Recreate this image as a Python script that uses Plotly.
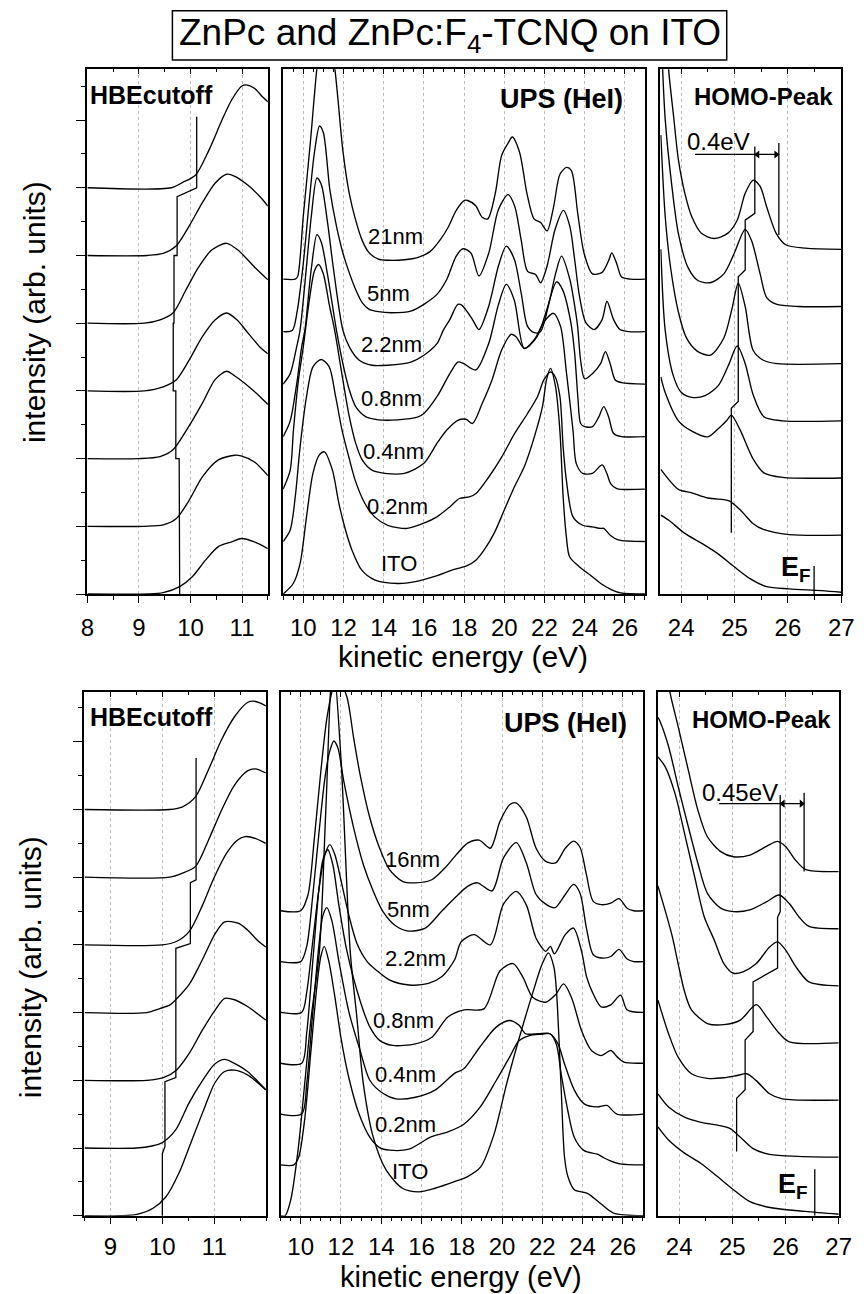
import plotly.graph_objects as go

W, H = 868, 1294
FONT = "Liberation Sans"

# ======================= DATA =======================
labels_top = ["ITO", "0.2nm", "0.4nm", "0.8nm", "2.2nm", "5nm", "21nm"]
labels_bot = ["ITO", "0.2nm", "0.4nm", "0.8nm", "2.2nm", "5nm", "16nm"]

# ---- top-left: HBE cutoff (ZnPc) ----
tl_ito_x = [8.0, 9.2, 9.47, 9.79, 10.04, 10.29, 10.54, 10.8, 10.99, 11.24, 11.5]
tl_ito_y = [0.0, 0.0, 0.02, 0.11, 0.26, 0.5, 0.7, 0.77, 0.82, 0.77, 0.67]
tl_02_x = [8.0, 9.1, 9.47, 9.72, 9.97, 10.23, 10.54, 10.86, 10.98, 11.24, 11.5]
tl_02_y = [0.0, 0.0, 0.02, 0.11, 0.38, 0.73, 0.98, 1.05, 1.04, 0.95, 0.75]
tl_04_x = [8.0, 9.0, 9.41, 9.66, 9.97, 10.23, 10.48, 10.7, 10.86, 11.12, 11.37, 11.5]
tl_04_y = [0.0, 0.0, 0.03, 0.13, 0.48, 0.82, 1.17, 1.29, 1.22, 1.07, 0.9, 0.8]
tl_08_x = [8.0, 9.1, 9.47, 9.72, 9.97, 10.23, 10.48, 10.7, 10.9, 11.12, 11.37, 11.5]
tl_08_y = [0.0, 0.0, 0.06, 0.16, 0.45, 0.8, 1.05, 1.15, 1.05, 0.85, 0.63, 0.55]
tl_22_x = [8.0, 9.1, 9.41, 9.66, 9.91, 10.16, 10.41, 10.7, 10.92, 11.24, 11.5]
tl_22_y = [0.0, 0.0, 0.05, 0.15, 0.49, 0.83, 1.08, 1.18, 1.08, 0.83, 0.64]
tl_5_x = [8.0, 9.16, 9.47, 9.72, 9.97, 10.23, 10.48, 10.7, 10.86, 11.11, 11.37, 11.5]
tl_5_y = [0.0, 0.0, 0.03, 0.14, 0.43, 0.78, 1.07, 1.2, 1.17, 1.04, 0.85, 0.73]
tl_21_x = [8.0, 9.63, 9.85, 10.1, 10.36, 10.61, 10.8, 10.99, 11.08, 11.24, 11.4, 11.5]
tl_21_y = [0.0, 0.0, 0.08, 0.19, 0.56, 1.0, 1.3, 1.5, 1.52, 1.47, 1.34, 1.27]
tl_cut_x = [9.79, 9.79, 9.78, 9.78, 9.715, 9.715, 9.665, 9.665, 9.68, 9.68, 9.74, 9.74, 10.12, 10.12]
tl_cut_y = [0, 0.99, 0.99, 2.0, 2.0, 3.0, 3.0, 4.0, 4.0, 5.0, 5.0, 5.87, 6.0, 7.05]

# ---- top-middle: UPS (HeI) full spectra ----
tm_ito_x = [9.0, 9.5, 9.84, 10.16, 10.48, 10.8, 11.05, 11.45, 11.77, 12.1, 12.42, 12.9, 13.55, 14.7, 15.5,
            16.5, 17.5, 18.1, 18.6, 19.0, 19.5, 20.0, 20.5, 21.0, 21.5, 21.9, 22.1, 22.3, 22.55, 22.77,
            22.93, 23.09, 23.25, 23.73, 24.38, 24.8, 25.35, 25.8, 27.0]
tm_ito_y = [0.0, 0.2, 0.58, 1.47, 2.3, 2.65, 2.71, 2.36, 1.73, 1.22, 0.84, 0.46, 0.27, 0.2, 0.23,
            0.33, 0.47, 0.53, 0.65, 0.84, 1.16, 1.6, 2.04, 2.43, 3.0, 3.57, 4.08, 4.3, 3.95, 3.1,
            1.85, 1.09, 0.71, 0.52, 0.33, 0.2, 0.08, 0.02, 0.0]
tm_02_x = [9.0, 9.35, 9.6, 9.84, 10.16, 10.48, 10.89, 11.29, 11.61, 11.93, 12.26, 12.58, 13.06, 13.55,
           14.2, 15.16, 16.0, 16.65, 17.29, 17.77, 18.26, 18.58, 19.23, 19.87, 20.52, 21.16, 21.65,
           21.97, 22.29, 22.53, 22.77, 22.93, 23.09, 23.42, 23.9, 24.38, 24.79, 24.95, 25.27, 25.67, 27.0]
tm_02_y = [0.0, 0.22, 0.85, 1.8, 2.76, 3.33, 3.47, 3.33, 2.76, 2.12, 1.62, 1.17, 0.73, 0.47,
           0.31, 0.25, 0.35, 0.47, 0.66, 0.82, 0.85, 0.91, 1.23, 1.61, 2.06, 2.44, 2.76,
           3.08, 3.23, 3.14, 2.76, 1.8, 1.17, 0.47, 0.31, 0.28, 0.25, 0.25, 0.12, 0.03, 0.0]
tm_04_x = [9.0, 9.35, 9.51, 9.76, 10.0, 10.3, 10.55, 10.76, 11.0, 11.3, 11.56, 11.97, 12.29, 12.61,
           12.94, 13.42, 14.06, 15.03, 16.0, 16.65, 17.13, 17.69, 18.1, 18.42, 18.9, 19.39, 19.87,
           20.35, 20.6, 21.0, 21.5, 22.0, 22.45, 22.8, 23.1, 23.42, 23.58, 23.9, 24.39, 24.87, 25.1,
           25.3, 25.6, 27.0]
tm_04_y = [0.0, 0.36, 1.12, 2.08, 2.71, 3.6, 4.15, 4.28, 4.1, 3.5, 3.03, 2.08, 1.38, 0.87,
           0.55, 0.36, 0.3, 0.3, 0.49, 0.87, 1.12, 1.31, 1.33, 1.25, 1.63, 2.08, 2.65,
           2.95, 2.9, 2.68, 2.85, 3.2, 3.35, 3.1, 2.2, 1.12, 0.49, 0.3, 0.3, 0.46, 0.3,
           0.1, 0.01, 0.0]
tm_08_x = [9.0, 9.35, 9.67, 9.92, 10.08, 10.4, 10.68, 10.9, 11.2, 11.65, 11.97, 12.29, 12.61, 13.1,
           13.74, 14.7, 15.68, 16.0, 16.65, 17.29, 17.69, 17.94, 18.58, 19.23, 19.7, 20.1, 20.5,
           21.0, 21.64, 22.1, 22.6, 22.9, 23.3, 23.5, 23.66, 23.8, 24.0, 24.39, 24.71, 24.95, 25.19,
           25.44, 25.84, 27.0]
tm_08_y = [0.0, 0.3, 1.0, 1.71, 2.03, 3.2, 3.85, 3.7, 3.1, 2.03, 1.39, 0.89, 0.57, 0.38,
           0.32, 0.32, 0.37, 0.44, 0.76, 1.2, 1.42, 1.4, 1.27, 1.78, 2.5, 2.9, 2.6,
           1.68, 1.91, 2.4, 2.95, 2.8, 2.2, 1.6, 0.76, 0.25, 0.19, 0.19, 0.38, 0.57, 0.38,
           0.06, 0.0, 0.0]
tm_22_x = [9.0, 9.35, 9.67, 9.84, 10.1, 10.4, 10.68, 10.9, 11.2, 11.5, 11.97, 12.29, 12.77, 13.42,
           14.2, 15.35, 16.0, 16.65, 16.97, 17.29, 17.69, 17.9, 18.42, 18.74, 19.23, 19.71, 20.1,
           20.5, 20.84, 21.16, 21.5, 21.8, 22.2, 22.55, 22.85, 23.26, 23.5, 23.65, 23.8, 24.0,
           24.39, 24.79, 25.03, 25.27, 25.52, 25.84, 27.0]
tm_22_y = [0.0, 0.2, 0.71, 1.03, 2.0, 3.2, 3.93, 3.8, 3.1, 2.2, 1.03, 0.71, 0.46, 0.36,
           0.36, 0.42, 0.55, 0.77, 1.03, 1.23, 1.52, 1.5, 1.23, 1.04, 1.49, 2.25, 2.63,
           2.38, 1.74, 1.1, 0.98, 1.0, 1.5, 2.1, 2.44, 2.0, 1.5, 1.1, 0.45, 0.1,
           0.2, 0.39, 0.62, 0.39, 0.08, 0.03, 0.0]
tm_5_x = [9.0, 9.45, 9.7, 10.0, 10.3, 10.55, 10.81, 11.0, 11.32, 11.65, 11.97, 12.29, 12.61, 12.94,
          13.26, 13.74, 14.39, 15.35, 16.0, 16.65, 17.13, 17.61, 17.94, 18.34, 18.74, 19.23, 19.71,
          20.19, 20.52, 20.84, 21.16, 21.56, 21.81, 22.13, 22.53, 22.94, 23.26, 23.5, 23.74, 24.06,
          24.47, 24.87, 25.11, 25.44, 25.76, 26.2, 27.0]
tm_5_y = [0.0, 0.02, 0.4, 1.3, 2.5, 3.4, 3.92, 3.79, 2.71, 2.01, 1.5, 1.12, 0.8, 0.55,
          0.43, 0.38, 0.36, 0.39, 0.52, 0.71, 0.99, 1.44, 1.58, 1.5, 1.06, 1.5, 2.33,
          2.61, 2.39, 1.75, 1.15, 1.09, 0.93, 1.25, 1.95, 2.31, 2.01, 1.38, 0.68, 0.17,
          0.04, 0.23, 0.58, 0.23, 0.04, 0.0, 0.0]
tm_21_x = [9.0, 9.6, 9.72, 10.0, 10.35, 10.7, 11.0, 11.3, 11.56, 11.73, 11.97, 12.29, 12.61, 12.94,
           13.26, 13.74, 14.23, 15.03, 15.68, 16.32, 16.81, 17.21, 17.61, 18.02, 18.18, 18.58, 18.9,
           19.18, 19.55, 19.87, 20.2, 20.4, 20.76, 21.13, 21.48, 21.81, 22.13, 22.45, 22.77, 23.1,
           23.34, 23.66, 23.98, 24.39, 24.87, 25.19, 25.35, 25.6, 25.84, 26.3, 27.0]
tm_21_y = [0.0, 0.0, 0.05, 1.2, 2.6, 4.1, 4.9, 4.7, 4.05, 3.41, 2.45, 1.63, 1.12, 0.73,
           0.51, 0.38, 0.36, 0.37, 0.41, 0.53, 0.75, 0.99, 1.31, 1.5, 1.5, 1.4, 1.18,
           1.15, 1.63, 2.36, 2.6, 2.71, 2.42, 1.63, 1.15, 1.08, 0.92, 1.37, 2.0, 2.13,
           2.07, 1.24, 0.48, 0.1, 0.13, 0.35, 0.5, 0.29, 0.04, 0.0, 0.0]

# ---- top-right: HOMO region ----
tr_ito_x = [23.62, 23.77, 24.07, 24.38, 24.68, 24.99, 25.29, 25.6, 26.02, 26.63, 27.0]
tr_ito_y = [1.35, 1.26, 1.03, 0.86, 0.68, 0.45, 0.24, 0.1, 0.06, 0.03, 0.0]
tr_02_x = [23.62, 23.95, 24.2, 24.5, 24.8, 24.9, 25.11, 25.35, 25.54, 26.02, 27.0]
tr_02_y = [1.15, 0.8, 0.74, 0.65, 0.62, 0.6, 0.44, 0.2, 0.1, 0.01, 0.0]
tr_04_x = [23.62, 23.7, 23.95, 24.2, 24.5, 24.68, 24.85, 24.94, 25.1, 25.35, 25.55, 25.9, 27.0]
tr_04_y = [1.77, 1.5, 1.0, 0.82, 0.72, 0.85, 1.0, 1.1, 0.85, 0.33, 0.09, 0.01, 0.0]
tr_08_x = [23.62, 23.7, 23.85, 24.0, 24.2, 24.45, 24.7, 24.9, 25.05, 25.2, 25.35, 25.55, 25.9, 27.0]
tr_08_y = [3.0, 1.6, 0.8, 0.5, 0.41, 0.44, 0.62, 1.0, 1.31, 1.0, 0.45, 0.07, 0.0, 0.0]
tr_22_x = [23.62, 23.7, 23.8, 23.95, 24.1, 24.3, 24.55, 24.8, 24.95, 25.07, 25.2, 25.35, 25.54, 25.8, 27.0]
tr_22_y = [4.0, 2.6, 1.7, 0.9, 0.45, 0.22, 0.15, 0.45, 0.95, 1.41, 1.0, 0.23, 0.06, 0.0, 0.0]
tr_5_x = [23.62, 23.7, 23.83, 23.95, 24.13, 24.32, 24.56, 24.8, 24.99, 25.2, 25.32, 25.48, 25.6, 25.78, 26.2, 27.0]
tr_5_y = [5.0, 3.3, 2.08, 1.27, 0.68, 0.45, 0.42, 0.57, 0.92, 1.35, 1.15, 0.57, 0.16, 0.04, 0.0, 0.0]
tr_21_x = [23.7, 23.77, 23.86, 23.95, 24.07, 24.2, 24.38, 24.62, 24.87, 25.05, 25.2, 25.35, 25.48, 25.6,
           25.78, 25.96, 26.33, 27.0]
tr_21_y = [4.0, 3.1, 2.32, 1.56, 0.98, 0.57, 0.28, 0.19, 0.28, 0.51, 0.98, 1.21, 1.1, 0.75,
           0.28, 0.08, 0.02, 0.0]
tr_homo_x = [25.38, 25.38, 25.20, 25.20, 25.07, 25.07, 24.94, 24.94]
tr_homo_y = [7.80, 6.63, 6.51, 5.64, 5.52, 3.34, 3.22, 1.04]
tr_shift_x = [24.26, 25.38, 25.83]          # underline start, HOMO(21nm), reference position
tr_shift_y = [7.66, 6.25, 7.86]              # underline level, reference line bottom / top
tr_ef_x = 26.49
tr_ef_y = [-0.03, 0.46]

# ---- bottom-left: HBE cutoff (ZnPc:F4-TCNQ) ----
bl_ito_x = [8.5, 9.2, 9.51, 9.82, 10.07, 10.32, 10.57, 10.82, 11.01, 11.2, 11.39, 11.64, 11.99]
bl_ito_y = [0.0, 0.0, 0.02, 0.11, 0.28, 0.63, 1.12, 1.61, 1.96, 2.13, 2.15, 2.08, 1.86]
bl_02_x = [8.5, 9.5, 9.8, 10.0, 10.26, 10.51, 10.76, 11.01, 11.2, 11.39, 11.64, 11.99]
bl_02_y = [0.0, 0.0, 0.03, 0.08, 0.27, 0.66, 0.98, 1.24, 1.31, 1.25, 1.13, 0.86]
bl_04_x = [8.5, 9.7, 10.02, 10.27, 10.52, 10.77, 11.02, 11.2, 11.39, 11.64, 11.99]
bl_04_y = [0.0, 0.0, 0.04, 0.15, 0.4, 0.74, 1.04, 1.21, 1.19, 1.09, 0.89]
bl_08_x = [8.5, 9.7, 9.95, 10.14, 10.27, 10.52, 10.77, 11.02, 11.2, 11.46, 11.64, 11.83, 11.99]
bl_08_y = [0.0, 0.0, 0.06, 0.11, 0.2, 0.42, 0.78, 1.17, 1.34, 1.32, 1.22, 1.07, 0.97]
bl_22_x = [8.5, 10.0, 10.27, 10.52, 10.77, 11.0, 11.25, 11.45, 11.6, 11.8, 11.99]
bl_22_y = [0.0, 0.0, 0.05, 0.2, 0.58, 1.0, 1.37, 1.55, 1.6, 1.57, 1.5]
bl_5_x = [8.5, 10.14, 10.39, 10.64, 10.89, 11.14, 11.39, 11.64, 11.79, 11.99]
bl_5_y = [0.0, 0.0, 0.06, 0.16, 0.55, 0.99, 1.36, 1.57, 1.6, 1.54]
bl_16_x = [8.5, 10.14, 10.39, 10.64, 10.89, 11.14, 11.39, 11.64, 11.76, 11.89, 11.99]
bl_16_y = [0.0, 0.0, 0.04, 0.19, 0.59, 1.03, 1.37, 1.58, 1.6, 1.57, 1.53]
bl_cut_x = [10.0, 10.0, 10.05, 10.05, 10.26, 10.26, 10.54, 10.54, 10.65, 10.65]
bl_cut_y = [0, 0.92, 1.02, 1.98, 2.04, 3.95, 4.02, 4.92, 4.96, 6.76]

# ---- bottom-middle: UPS (HeI) full spectra ----
bm_ito_x = [9.0, 9.23, 9.5, 9.87, 10.2, 10.52, 10.93, 11.25, 11.6, 12.0, 12.46, 12.79, 13.11, 13.6,
            14.24, 15.05, 15.86, 16.67, 17.64, 18.29, 18.94, 19.6, 20.23, 20.87, 21.52, 22.01, 22.3,
            22.57, 22.7, 22.94, 23.1, 23.27, 23.59, 24.24, 24.89, 25.54, 27.0]
bm_ito_y = [0.0, 0.0, 0.3, 1.29, 2.6, 3.9, 5.2, 8.0, 11.0, 9.0, 5.2, 3.9, 2.6, 1.55,
            0.9, 0.54, 0.47, 0.54, 0.67, 0.77, 0.96, 1.6, 2.6, 3.52, 4.38, 4.97, 5.17,
            4.9, 4.44, 2.47, 1.16, 0.77, 0.51, 0.44, 0.24, 0.05, 0.0]
bm_02_x = [9.0, 9.66, 9.9, 10.2, 10.5, 10.8, 11.0, 11.17, 11.4, 11.7, 12.0, 12.4, 12.9, 13.44,
           13.92, 14.41, 15.38, 16.47, 17.31, 18.1, 18.9, 19.71, 20.36, 20.84, 21.33, 21.97, 22.38,
           22.7, 22.94, 23.27, 23.59, 24.08, 24.73, 25.05, 25.38, 25.86, 27.0]
bm_02_y = [0.0, 0.0, 0.15, 0.9, 2.2, 3.5, 4.1, 4.3, 4.0, 3.3, 2.5, 1.7, 1.0, 0.54,
           0.34, 0.29, 0.31, 0.55, 0.65, 0.8, 1.13, 1.66, 2.11, 2.44, 2.54, 2.57, 2.58,
           2.37, 1.78, 1.06, 0.54, 0.28, 0.21, 0.14, 0.08, 0.02, 0.0]
bm_04_x = [9.0, 10.05, 10.3, 10.6, 10.9, 11.1, 11.3, 11.55, 11.9, 12.4, 12.95, 13.44, 14.08, 14.73,
           15.7, 16.67, 17.64, 18.1, 18.9, 19.71, 20.36, 20.84, 21.17, 21.8, 22.38, 22.78, 23.1,
           23.59, 24.08, 24.73, 25.21, 25.7, 27.0]
bm_04_y = [0.0, 0.0, 0.6, 2.0, 3.3, 3.9, 4.06, 3.8, 3.0, 2.0, 1.25, 0.66, 0.41, 0.3,
           0.33, 0.47, 0.8, 0.89, 1.32, 1.71, 1.84, 1.75, 1.58, 1.58, 1.58, 1.38, 0.99,
           0.47, 0.2, 0.14, 0.17, 0.0, 0.0]
bm_08_x = [9.0, 10.05, 10.3, 10.6, 10.9, 11.1, 11.35, 11.6, 11.9, 12.3, 12.95, 13.44, 13.92, 14.57,
           15.7, 16.51, 17.31, 18.12, 19.1, 19.9, 20.55, 21.04, 21.52, 22.17, 22.66, 23.06, 23.47,
           23.95, 24.44, 24.92, 25.4, 25.73, 26.05, 27.0]
bm_08_y = [0.0, 0.0, 0.6, 2.0, 3.4, 4.0, 4.2, 3.9, 3.1, 2.2, 1.23, 0.71, 0.45, 0.35,
           0.38, 0.51, 0.91, 1.05, 1.07, 1.82, 1.96, 1.69, 1.3, 1.2, 1.35, 1.56, 1.27,
           0.64, 0.25, 0.15, 0.25, 0.12, 0.02, 0.0]
bm_22_x = [9.0, 10.05, 10.3, 10.6, 10.9, 11.2, 11.45, 11.7, 12.0, 12.4, 12.8, 13.3, 13.76, 14.4,
           15.38, 16.35, 17.0, 17.64, 17.97, 18.61, 19.42, 20.07, 20.71, 21.2, 21.69, 22.17, 22.4,
           22.6, 23.14, 23.55, 23.95, 24.2, 24.52, 24.92, 25.4, 25.89, 26.21, 27.0]
bm_22_y = [0.0, 0.0, 0.4, 1.4, 2.4, 3.1, 3.3, 3.1, 2.6, 1.9, 1.35, 1.0, 0.83, 0.64,
           0.54, 0.57, 0.7, 1.03, 1.39, 1.53, 1.33, 2.13, 2.38, 2.12, 1.46, 1.2, 1.3,
           1.15, 1.53, 1.66, 1.2, 0.7, 0.37, 0.11, 0.15, 0.34, 0.05, 0.0]
bm_5_x = [9.0, 10.0, 10.3, 10.6, 10.9, 11.2, 11.45, 11.65, 11.85, 12.14, 12.63, 13.11, 13.6, 14.08,
          14.73, 15.38, 16.19, 17.0, 17.65, 18.29, 18.78, 19.5, 20.07, 20.71, 21.2, 21.69, 22.17,
          22.62, 23.14, 23.55, 23.87, 24.19, 24.52, 24.92, 25.4, 25.81, 26.21, 26.54, 27.0]
bm_5_y = [0.0, 0.0, 0.3, 1.3, 2.5, 3.6, 4.15, 4.34, 4.2, 3.55, 2.63, 1.91, 1.39, 0.99,
          0.7, 0.6, 0.66, 0.99, 1.25, 1.48, 1.55, 1.39, 2.04, 2.34, 1.95, 1.32, 1.13,
          1.06, 1.32, 1.52, 1.35, 0.66, 0.14, 0.07, 0.1, 0.24, 0.05, 0.0, 0.0]
bm_16_x = [9.0, 10.0, 10.36, 10.68, 11.0, 11.33, 11.7, 12.0, 12.3, 12.63, 12.95, 13.44, 13.92, 14.41,
           15.05, 15.7, 16.51, 17.16, 17.72, 18.29, 18.86, 19.42, 19.9, 20.39, 20.71, 21.2, 21.69,
           22.17, 22.66, 23.14, 23.55, 23.87, 24.19, 24.52, 24.92, 25.4, 25.81, 26.21, 26.54, 27.0]
bm_16_y = [0.0, 0.0, 0.31, 1.43, 2.74, 3.86, 4.45, 4.45, 4.2, 3.4, 2.68, 1.82, 1.23, 0.81,
           0.58, 0.55, 0.61, 0.84, 1.1, 1.33, 1.39, 1.23, 1.76, 2.09, 2.12, 1.85, 1.23,
           0.97, 0.94, 1.23, 1.37, 1.25, 0.71, 0.19, 0.12, 0.15, 0.24, 0.05, 0.0, 0.0]

# ---- bottom-right: HOMO region ----
br_ito_x = [23.6, 23.8, 24.1, 24.41, 24.72, 25.02, 25.33, 25.76, 26.37, 27.0]
br_ito_y = [1.53, 1.3, 1.07, 0.89, 0.66, 0.43, 0.22, 0.11, 0.05, 0.0]
br_02_x = [23.6, 23.8, 24.1, 24.41, 24.72, 24.96, 25.15, 25.39, 25.7, 27.0]
br_02_y = [1.11, 0.88, 0.7, 0.61, 0.56, 0.5, 0.35, 0.15, 0.05, 0.0]
br_04_x = [23.6, 23.8, 23.98, 24.23, 24.53, 24.84, 25.09, 25.27, 25.45, 25.7, 25.94, 27.0]
br_04_y = [1.75, 1.16, 0.75, 0.46, 0.38, 0.39, 0.43, 0.46, 0.34, 0.11, 0.02, 0.0]
br_08_x = [23.6, 23.86, 24.0, 24.1, 24.23, 24.53, 24.84, 25.15, 25.45, 25.64, 25.88, 26.07, 27.0]
br_08_y = [2.75, 1.9, 1.3, 0.9, 0.58, 0.34, 0.32, 0.4, 0.67, 0.46, 0.17, 0.02, 0.0]
br_22_x = [23.6, 23.74, 23.92, 24.1, 24.29, 24.47, 24.66, 24.84, 25.02, 25.21, 25.45, 25.7, 25.85,
           26.0, 26.19, 26.44, 27.0]
br_22_y = [4.01, 3.83, 3.37, 2.67, 1.91, 1.21, 0.8, 0.39, 0.22, 0.25, 0.39, 0.68, 0.77,
           0.63, 0.34, 0.07, 0.0]
br_5_x = [23.6, 23.64, 23.8, 23.98, 24.17, 24.35, 24.53, 24.78, 25.02, 25.33, 25.64, 25.88, 26.07,
          26.25, 26.44, 27.0]
br_5_y = [3.7, 3.63, 3.19, 2.49, 1.79, 1.15, 0.62, 0.36, 0.3, 0.33, 0.47, 0.59, 0.44,
          0.21, 0.04, 0.0]
br_16_x = [23.75, 23.83, 23.98, 24.17, 24.35, 24.53, 24.78, 25.02, 25.33, 25.64, 25.85, 26.0, 26.19,
           26.37, 27.0]
br_16_y = [3.6, 3.12, 2.54, 1.78, 1.08, 0.61, 0.35, 0.26, 0.29, 0.44, 0.53, 0.44, 0.2,
           0.04, 0.0]
br_homo_x = [25.90, 25.90, 25.85, 25.85, 25.39, 25.39, 25.24, 25.24, 25.08, 25.08]
br_homo_y = [7.34, 5.30, 5.20, 4.31, 4.07, 3.20, 3.05, 2.18, 2.03, 1.10]
br_shift_x = [24.75, 25.90, 26.35]
br_shift_y = [7.19, 6.0, 7.38]
br_ef_x = 26.55
br_ef_y = [-0.025, 0.79]

# ======================= FIGURE =======================
def px_x(p):
    return p / W


def px_y(p):
    return 1 - p / H


fig = go.Figure()
LINE = dict(color="black", width=1.35, shape="spline", smoothing=0.8)
SEG = dict(color="black", width=1.3)


def axn(ax):
    return ("x", "y") if ax == 1 else ("x%d" % ax, "y%d" % ax)


def add_stack(curves, ax):
    xa, ya = axn(ax)
    for k, (xs, ys) in enumerate(curves):
        fig.add_trace(go.Scatter(x=xs, y=[v + k for v in ys], mode="lines", line=LINE,
                                 xaxis=xa, yaxis=ya, showlegend=False, hoverinfo="skip"))


def add_seg(xs, ys, ax):
    xa, ya = axn(ax)
    fig.add_trace(go.Scatter(x=xs, y=ys, mode="lines", line=SEG, xaxis=xa, yaxis=ya,
                             showlegend=False, hoverinfo="skip"))


def add_double_arrow(x0, x1, y, ax):
    xa, ya = axn(ax)
    fig.add_trace(go.Scatter(x=[x0, x1], y=[y, y], mode="lines+markers", line=SEG,
                             marker=dict(symbol=["triangle-left", "triangle-right"], size=7,
                                         color="black"),
                             xaxis=xa, yaxis=ya, showlegend=False, hoverinfo="skip"))


add_stack([(tl_ito_x, tl_ito_y), (tl_02_x, tl_02_y), (tl_04_x, tl_04_y), (tl_08_x, tl_08_y),
           (tl_22_x, tl_22_y), (tl_5_x, tl_5_y), (tl_21_x, tl_21_y)], 1)
add_stack([(tm_ito_x, tm_ito_y), (tm_02_x, tm_02_y), (tm_04_x, tm_04_y), (tm_08_x, tm_08_y),
           (tm_22_x, tm_22_y), (tm_5_x, tm_5_y), (tm_21_x, tm_21_y)], 2)
add_stack([(tr_ito_x, tr_ito_y), (tr_02_x, tr_02_y), (tr_04_x, tr_04_y), (tr_08_x, tr_08_y),
           (tr_22_x, tr_22_y), (tr_5_x, tr_5_y), (tr_21_x, tr_21_y)], 3)
add_stack([(bl_ito_x, bl_ito_y), (bl_02_x, bl_02_y), (bl_04_x, bl_04_y), (bl_08_x, bl_08_y),
           (bl_22_x, bl_22_y), (bl_5_x, bl_5_y), (bl_16_x, bl_16_y)], 4)
add_stack([(bm_ito_x, bm_ito_y), (bm_02_x, bm_02_y), (bm_04_x, bm_04_y), (bm_08_x, bm_08_y),
           (bm_22_x, bm_22_y), (bm_5_x, bm_5_y), (bm_16_x, bm_16_y)], 5)
add_stack([(br_ito_x, br_ito_y), (br_02_x, br_02_y), (br_04_x, br_04_y), (br_08_x, br_08_y),
           (br_22_x, br_22_y), (br_5_x, br_5_y), (br_16_x, br_16_y)], 6)

# cutoff / HOMO guide lines
add_seg(tl_cut_x, tl_cut_y, 1)
add_seg(bl_cut_x, bl_cut_y, 4)
add_seg(tr_homo_x, tr_homo_y, 3)
add_seg(br_homo_x, br_homo_y, 6)
add_seg([tr_shift_x[0], tr_shift_x[1]], [tr_shift_y[0], tr_shift_y[0]], 3)
add_seg([tr_shift_x[2], tr_shift_x[2]], [tr_shift_y[1], tr_shift_y[2]], 3)
add_seg([br_shift_x[0], br_shift_x[1]], [br_shift_y[0], br_shift_y[0]], 6)
add_seg([br_shift_x[2], br_shift_x[2]], [br_shift_y[1], br_shift_y[2]], 6)
add_seg([tr_ef_x, tr_ef_x], tr_ef_y, 3)
add_seg([br_ef_x, br_ef_x], br_ef_y, 6)
add_double_arrow(tr_shift_x[1] + 0.05, tr_shift_x[2] - 0.05, tr_shift_y[0], 3)
add_double_arrow(br_shift_x[1] + 0.05, br_shift_x[2] - 0.05, br_shift_y[0], 6)

# dummy traces for the top (inner-tick) axes
for i in range(7, 13):
    fig.add_trace(go.Scatter(x=[None], y=[None], xaxis="x%d" % i,
                             yaxis=("y" if i == 7 else "y%d" % (i - 6)), showlegend=False))

TICKFONT = dict(family=FONT, size=24, color="black")

panels = [
    # (x0px, x1px, y0px, y1px, xrange, yrange, tick settings, label standoff)
    (82.3, 267.0, 69.3, 594.0, [8, 11.5], [0, 7.75], dict(tick0=8, dtick=1), 4),
    (282.7, 653.0, 69.3, 594.0, [9, 27], [0, 10.0], dict(tick0=10, dtick=2), 4),
    (668.7, 854.0, 69.3, 594.0, [23.61, 27], [-0.03, 9.15], dict(tick0=24, dtick=1), 4),
    (79.3, 265.3, 691.7, 1215.7, [8.5, 12], [0, 7.74], dict(tickmode="array", tickvals=[9, 10, 11]), 2),
    (280.0, 651.0, 691.7, 1215.7, [9, 27], [0, 10.31], dict(tick0=10, dtick=2), 2),
    (666.3, 851.3, 691.7, 1215.7, [23.6, 27], [-0.025, 9.15], dict(tick0=24, dtick=1), 2),
]

layout = dict(width=W, height=H, margin=dict(l=0, r=0, t=0, b=0), autosize=False,
              paper_bgcolor="white", plot_bgcolor="white", hovermode=False, showlegend=False)

for i, (x0, x1, y0, y1, xr, yr, tk, so) in enumerate(panels, start=1):
    sx = "" if i == 1 else str(i)
    xa = dict(domain=[px_x(x0), px_x(x1)], range=xr, anchor="y" + sx, showline=True, mirror=True,
              linecolor="black", linewidth=1.5, ticks="outside", ticklen=7, tickwidth=1.2,
              tickcolor="black", showgrid=True, gridcolor="#bdbdbd", griddash="dot", gridwidth=1,
              zeroline=False, tickfont=TICKFONT, ticklabelstandoff=so,
              minor=dict(dtick=0.5, tick0=0, ticks="outside", ticklen=4, tickwidth=1.2,
                         tickcolor="black", showgrid=False))
    xa.update(tk)
    ya = dict(domain=[px_y(y1), px_y(y0)], range=yr, anchor="x" + sx, showline=True, mirror=True,
              linecolor="black", linewidth=1.5, showgrid=False, zeroline=False, showticklabels=False)
    if i in (1, 4):
        ya.update(ticks="outside", ticklen=10, tickwidth=1.2, tickcolor="black", tick0=0, dtick=1,
                  minor=dict(dtick=0.5, tick0=0, ticks="outside", ticklen=5, tickwidth=1.2,
                             tickcolor="black"))
    else:
        ya.update(ticks="")
    layout["xaxis" + sx] = xa
    layout["yaxis" + sx] = ya
    # top axis with inner ticks
    top = dict(overlaying="x" + sx, side="top", anchor="y" + sx, range=xr, showline=False,
               ticks="inside", ticklen=5, tickwidth=1.2, tickcolor="black", showticklabels=False,
               showgrid=False, zeroline=False,
               minor=dict(dtick=0.5, tick0=0, ticks="inside", ticklen=3, tickwidth=1.2,
                          tickcolor="black", showgrid=False))
    top.update(tk)
    layout["xaxis%d" % (i + 6)] = top

fig.update_layout(**layout)

# ---------- texts ----------
def text(t, cx, cy, size, bold=False, angle=0, xanchor="center"):
    fig.add_annotation(text=("<b>%s</b>" % t) if bold else t, x=px_x(cx), y=px_y(cy),
                       xref="paper", yref="paper", xanchor=xanchor, yanchor="middle",
                       showarrow=False, textangle=angle,
                       font=dict(family=FONT, size=size, color="black"))


text("ZnPc and ZnPc:F<sub>4</sub>-TCNQ on ITO", 453, 35, 37)
fig.add_shape(type="rect", xref="paper", yref="paper", x0=px_x(169.3), x1=px_x(736.7),
              y0=px_y(60), y1=px_y(10.7), line=dict(color="black", width=1.5))

for cy in (95, 717):
    text("HBEcutoff", 148, cy, 25, bold=True)
text("UPS (HeI)", 567.8, 98.8, 27, bold=True)
text("UPS (HeI)", 572, 722.5, 27, bold=True)
text("HOMO-Peak", 774.5, 96.5, 24, bold=True)
text("HOMO-Peak", 772.2, 719, 24, bold=True)

top_label_pos = [(401.7, 563.3), (400, 506.7), (395.8, 452), (393.3, 398.3), (393.3, 345),
                 (390.8, 293), (397.5, 236.5)]
bot_label_pos = [(412, 1171.7), (408, 1124), (408, 1074), (405.5, 1020), (418, 958.3),
                 (410.5, 909.7), (415.5, 859.3)]
for lab, (cx, cy) in zip(labels_top, top_label_pos):
    text(lab, cx, cy, 22)
for lab, (cx, cy) in zip(labels_bot, bot_label_pos):
    text(lab, cx, cy, 22)

text("0.4eV", 728, 141.3, 24)
text("0.45eV", 750.3, 792.8, 24)
text("E<sub>F</sub>", 808, 569, 27, bold=True)
text("E<sub>F</sub>", 805, 1186, 27, bold=True)

text("kinetic energy (eV)", 467, 656, 30)
text("kinetic energy (eV)", 464.5, 1277, 29)
text("intensity (arb. units)", 28, 311.7, 30, angle=-90)
text("intensity (arb. units)", 24, 966.7, 30, angle=-90)

fig.write_html("out.html")
